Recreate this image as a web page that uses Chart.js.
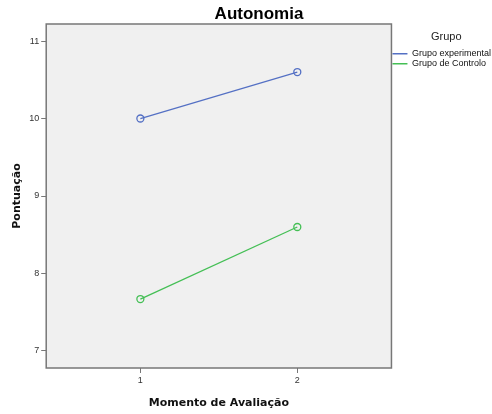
<!DOCTYPE html>
<html>
<head>
<meta charset="utf-8">
<script src="https://cdn.jsdelivr.net/npm/chart.js@4/dist/chart.umd.min.js"></script>
<style>
  html, body { margin: 0; padding: 0; background: #fff; }
  #wrap { width: 492px; height: 414px; }
</style>
</head>
<body>
<div id="wrap"><canvas id="chart" width="492" height="414"></canvas></div>
<script>
const momentos = [1, 2];
const grupoExperimental = [10.0, 10.6];
const grupoControlo = [7.67, 8.6];
const yTicks = [7, 8, 9, 10, 11];

const frame = {
  id: "frame",
  beforeDraw(chart) {
    const { ctx, chartArea: a } = chart;
    ctx.save();
    ctx.fillStyle = "#f0f0f0";
    ctx.fillRect(a.left, a.top, a.right - a.left, a.bottom - a.top);
    ctx.restore();
  },
  afterDraw(chart) {
    const { ctx, chartArea: a } = chart;
    ctx.save();
    ctx.strokeStyle = "#777";
    ctx.lineWidth = 1.5;
    ctx.strokeRect(a.left, a.top, a.right - a.left, a.bottom - a.top);
    // title, centred like the original
    ctx.fillStyle = "#000";
    ctx.font = "bold 17px 'Liberation Sans', Arial, sans-serif";
    ctx.textAlign = "center";
    ctx.textBaseline = "middle";
    ctx.fillText("Autonomia", 259, 14);
    ctx.restore();
  },
};

const ctx = document.getElementById("chart").getContext("2d");
new Chart(ctx, {
  type: "line",
  data: {
    datasets: [
      {
        label: "Grupo experimental",
        data: momentos.map((m, i) => ({ x: m, y: grupoExperimental[i] })),
        borderColor: "#5470c4",
        backgroundColor: "#5470c4",
        pointBackgroundColor: "rgba(0,0,0,0)",
        pointBorderColor: "#5470c4",
        pointRadius: 3.5,
        borderWidth: 1.3,
      },
      {
        label: "Grupo de Controlo",
        data: momentos.map((m, i) => ({ x: m, y: grupoControlo[i] })),
        borderColor: "#44bf55",
        backgroundColor: "#44bf55",
        pointBackgroundColor: "rgba(0,0,0,0)",
        pointBorderColor: "#44bf55",
        pointRadius: 3.5,
        borderWidth: 1.3,
      },
    ],
  },
  options: {
    responsive: false,
    animation: false,
    layout: { padding: { top: 24, left: 11, bottom: 4, right: -9 } },
    plugins: {
      title: { display: false },
      tooltip: { enabled: false },
      legend: {
        position: "right",
        align: "start",
        title: {
          display: true,
          text: "Grupo",
          color: "#222",
          font: { family: "'Liberation Sans', Arial", size: 11 },
          padding: { top: 7, bottom: 4 },
        },
        labels: {
          boxWidth: 15,
          boxHeight: 1.5,
          padding: 1,
          color: "#111",
          font: { family: "'Liberation Sans', Arial", size: 9 },
          generateLabels: (chart) =>
            chart.data.datasets.map((d, i) => ({
              text: d.label,
              fillStyle: d.borderColor,
              strokeStyle: d.borderColor,
              lineWidth: 0,
              datasetIndex: i,
              fontColor: "#111",
            })),
        },
      },
    },
    scales: {
      x: {
        type: "linear",
        min: 0.4,
        max: 2.6,
        afterBuildTicks: (s) => { s.ticks = momentos.map((v) => ({ value: v })); },
        grid: { drawOnChartArea: false, tickLength: 5, color: "#777", tickColor: "#777" },
        border: { display: false },
        ticks: { color: "#333", font: { family: "'Liberation Sans', Arial", size: 9 }, padding: 2 },
        title: {
          display: true,
          text: "Momento de Avaliação",
          color: "#111",
          font: { family: "'DejaVu Sans', sans-serif", size: 11, weight: "bold" },
          padding: { top: 9, bottom: 0 },
        },
      },
      y: {
        min: 6.78,
        max: 11.22,
        afterBuildTicks: (s) => { s.ticks = yTicks.map((v) => ({ value: v })); },
        grid: { drawOnChartArea: false, tickLength: 5, color: "#777", tickColor: "#777" },
        border: { display: false },
        ticks: { color: "#333", font: { family: "'Liberation Sans', Arial", size: 9 }, padding: 2 },
        title: {
          display: true,
          text: "Pontuação",
          color: "#111",
          font: { family: "'DejaVu Sans', sans-serif", size: 11, weight: "bold" },
          padding: { top: 0, bottom: 3 },
        },
      },
    },
  },
  plugins: [frame],
});
</script>
</body>
</html>
